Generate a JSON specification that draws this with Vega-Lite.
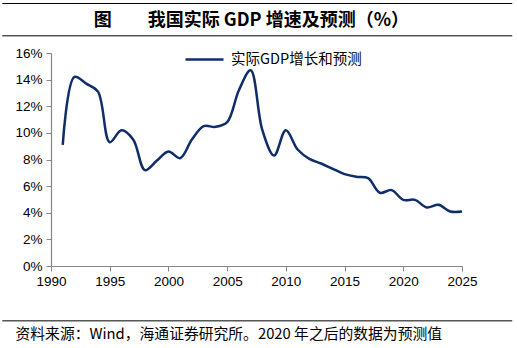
{
  "$schema": "https://vega.github.io/schema/vega-lite/v6.json",
  "width": 411,
  "height": 213,
  "autosize": {"type": "none"},
  "padding": {"left": 51, "top": 53, "right": 55, "bottom": 82},
  "background": "white",
  "config": {
    "view": {"stroke": null},
    "font": "Liberation Sans",
    "axis": {
      "grid": false,
      "labelFlush": false,
      "labelOverlap": false,
      "domainColor": "#868686",
      "domainWidth": 1.2,
      "tickColor": "#868686",
      "tickSize": 5,
      "labelFont": "Liberation Sans",
      "labelFontSize": 13.5,
      "labelColor": "#000000"
    }
  },
  "data": {
    "values": [
      {"year": 1991, "growth": 9.1, "series": "实际GDP增长和预测"},
      {"year": 1992, "growth": 14.2, "series": "实际GDP增长和预测"},
      {"year": 1993, "growth": 13.7, "series": "实际GDP增长和预测"},
      {"year": 1994, "growth": 13.1, "series": "实际GDP增长和预测"},
      {"year": 1995, "growth": 9.3, "series": "实际GDP增长和预测"},
      {"year": 1996, "growth": 10.2, "series": "实际GDP增长和预测"},
      {"year": 1997, "growth": 9.5, "series": "实际GDP增长和预测"},
      {"year": 1998, "growth": 7.2, "series": "实际GDP增长和预测"},
      {"year": 1999, "growth": 7.9, "series": "实际GDP增长和预测"},
      {"year": 2000, "growth": 8.6, "series": "实际GDP增长和预测"},
      {"year": 2001, "growth": 8.1, "series": "实际GDP增长和预测"},
      {"year": 2002, "growth": 9.5, "series": "实际GDP增长和预测"},
      {"year": 2003, "growth": 10.5, "series": "实际GDP增长和预测"},
      {"year": 2004, "growth": 10.45, "series": "实际GDP增长和预测"},
      {"year": 2005, "growth": 10.8, "series": "实际GDP增长和预测"},
      {"year": 2006, "growth": 13.2, "series": "实际GDP增长和预测"},
      {"year": 2007, "growth": 14.7, "series": "实际GDP增长和预测"},
      {"year": 2008, "growth": 10.2, "series": "实际GDP增长和预测"},
      {"year": 2009, "growth": 8.3, "series": "实际GDP增长和预测"},
      {"year": 2010, "growth": 10.2, "series": "实际GDP增长和预测"},
      {"year": 2011, "growth": 8.75, "series": "实际GDP增长和预测"},
      {"year": 2012, "growth": 8.05, "series": "实际GDP增长和预测"},
      {"year": 2013, "growth": 7.7, "series": "实际GDP增长和预测"},
      {"year": 2014, "growth": 7.3, "series": "实际GDP增长和预测"},
      {"year": 2015, "growth": 6.9, "series": "实际GDP增长和预测"},
      {"year": 2016, "growth": 6.7, "series": "实际GDP增长和预测"},
      {"year": 2017, "growth": 6.6, "series": "实际GDP增长和预测"},
      {"year": 2018, "growth": 5.5, "series": "实际GDP增长和预测"},
      {"year": 2019, "growth": 5.7, "series": "实际GDP增长和预测"},
      {"year": 2020, "growth": 4.97, "series": "实际GDP增长和预测"},
      {"year": 2021, "growth": 4.97, "series": "实际GDP增长和预测"},
      {"year": 2022, "growth": 4.4, "series": "实际GDP增长和预测"},
      {"year": 2023, "growth": 4.6, "series": "实际GDP增长和预测"},
      {"year": 2024, "growth": 4.1, "series": "实际GDP增长和预测"},
      {"year": 2025, "growth": 4.1, "series": "实际GDP增长和预测"}
    ]
  },
  "layer": [
    {
      "mark": {"type": "line", "interpolate": "catmull-rom", "strokeWidth": 2.5},
      "encoding": {
        "x": {
          "field": "year",
          "type": "quantitative",
          "scale": {"domain": [1990, 2025], "nice": false, "zero": false},
          "axis": {
            "values": [1990, 1995, 2000, 2005, 2010, 2015, 2020, 2025],
            "format": "d",
            "labelPadding": 3,
            "title": "资料来源：Wind，海通证券研究所。2020 年之后的数据为预测值",
            "titleFont": "Noto Sans CJK SC",
            "titleFontSize": 14.8,
            "titleFontWeight": "normal",
            "titleColor": "#000000",
            "titleAnchor": "start",
            "titleAlign": "left",
            "titleBaseline": "middle",
            "titleX": -36,
            "titleY": 68
          }
        },
        "y": {
          "field": "growth",
          "type": "quantitative",
          "scale": {"domain": [0, 16], "nice": false, "zero": false},
          "axis": {
            "values": [0, 2, 4, 6, 8, 10, 12, 14, 16],
            "labelExpr": "datum.value + '%'",
            "labelPadding": 4,
            "title": null
          }
        },
        "color": {
          "field": "series",
          "type": "nominal",
          "scale": {"range": ["#0F2D69"]},
          "legend": {
            "title": null,
            "orient": "none",
            "legendX": 133,
            "legendY": -14,
            "symbolType": "stroke",
            "symbolSize": 1444,
            "symbolStrokeWidth": 2.5,
            "labelFont": "Noto Sans CJK SC",
            "labelFontSize": 14.5,
            "labelColor": "#000000",
            "labelOffset": 6
          }
        }
      }
    },
    {
      "data": {"values": [{"pos": 19.72}, {"pos": 17.29}, {"pos": -4.12}]},
      "mark": {"type": "rule", "color": "#000000", "strokeWidth": 1},
      "encoding": {
        "x": {
          "datum": 1985.85,
          "type": "quantitative",
          "scale": {"domain": [1990, 2025], "nice": false, "zero": false},
          "axis": {
            "values": [1990, 1995, 2000, 2005, 2010, 2015, 2020, 2025],
            "format": "d",
            "labelPadding": 3,
            "title": "资料来源：Wind，海通证券研究所。2020 年之后的数据为预测值",
            "titleFont": "Noto Sans CJK SC",
            "titleFontSize": 14.8,
            "titleFontWeight": "normal",
            "titleColor": "#000000",
            "titleAnchor": "start",
            "titleAlign": "left",
            "titleBaseline": "middle",
            "titleX": -36,
            "titleY": 68
          }
        },
        "x2": {"datum": 2029.28},
        "y": {
          "field": "pos",
          "type": "quantitative",
          "scale": {"domain": [0, 16], "nice": false, "zero": false},
          "axis": {
            "values": [0, 2, 4, 6, 8, 10, 12, 14, 16],
            "labelExpr": "datum.value + '%'",
            "labelPadding": 4,
            "title": null
          }
        }
      }
    },
    {
      "data": {"values": [{"label": "图　　我国实际 GDP 增速及预测（%）"}]},
      "mark": {"type": "text", "font": "Noto Sans CJK SC", "fontSize": 18, "fontWeight": "bold", "color": "#000000", "align": "center", "baseline": "middle"},
      "encoding": {
        "x": {
          "datum": 2007.06,
          "type": "quantitative",
          "scale": {"domain": [1990, 2025], "nice": false, "zero": false},
          "axis": {
            "values": [1990, 1995, 2000, 2005, 2010, 2015, 2020, 2025],
            "format": "d",
            "labelPadding": 3,
            "title": "资料来源：Wind，海通证券研究所。2020 年之后的数据为预测值",
            "titleFont": "Noto Sans CJK SC",
            "titleFontSize": 14.8,
            "titleFontWeight": "normal",
            "titleColor": "#000000",
            "titleAnchor": "start",
            "titleAlign": "left",
            "titleBaseline": "middle",
            "titleX": -36,
            "titleY": 68
          }
        },
        "y": {
          "datum": 18.38,
          "type": "quantitative",
          "scale": {"domain": [0, 16], "nice": false, "zero": false},
          "axis": {
            "values": [0, 2, 4, 6, 8, 10, 12, 14, 16],
            "labelExpr": "datum.value + '%'",
            "labelPadding": 4,
            "title": null
          }
        },
        "text": {"field": "label", "type": "nominal"}
      }
    }
  ]
}
